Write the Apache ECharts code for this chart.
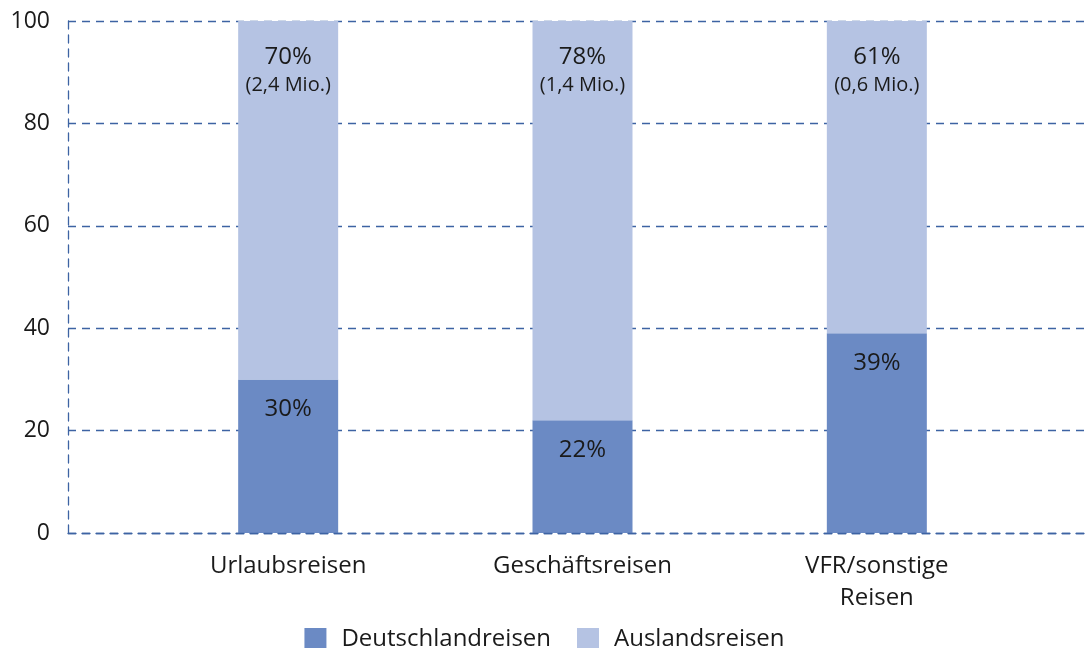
<!DOCTYPE html>
<html>
<head>
<meta charset="utf-8">
<script src="https://cdn.jsdelivr.net/npm/echarts@6/dist/echarts.min.js"></script>
<style>
  html, body { margin: 0; padding: 0; background: #fff; }
  #chart { width: 1089px; height: 648px; }
</style>
</head>
<body>
<div id="chart"></div>
<script>
const categories = ['Urlaubsreisen', 'Geschäftsreisen', 'VFR/sonstige\nReisen']
const domestic = [30, 22, 39]
const abroad = [70, 78, 61]
const abroadMio = ['2,4', '1,4', '0,6']
const yTicks = [0, 20, 40, 60, 80, 100]

const FONT = '"Open Sans", sans-serif'
const TXT = '#1a1a1a'
const dashColor = '#3d63a3'

const myChart = echarts.init(document.getElementById('chart'))
myChart.setOption({
  textStyle: {fontFamily: FONT},
  grid: [
    {left: 68, right: 4, top: 21, bottom: 115},
    {left: 141, right: 65, top: 21, bottom: 115}
  ],
  legend: {
    top: 622,
    left: 'center',
    itemWidth: 22,
    itemHeight: 22,
    itemGap: 26,
    icon: 'rect',
    textStyle: {fontSize: 24, color: TXT, fontFamily: FONT, padding: [0, 0, 0, 10]},
    data: ['Deutschlandreisen', 'Auslandsreisen']
  },
  xAxis: [
    {
      gridIndex: 0,
      type: 'category',
      data: [''],
      z: 10,
      axisLine: {lineStyle: {color: dashColor, type: [8, 6], width: 1.3}},
      axisTick: {show: false},
      axisLabel: {show: false}
    },
    {
      gridIndex: 1,
      type: 'category',
      data: categories,
      axisLine: {show: false},
      axisTick: {show: false},
      axisLabel: {
        color: TXT,
        fontSize: 24,
        margin: 17,
        lineHeight: 32,
        fontFamily: FONT
      }
    }
  ],
  yAxis: [
    {
      gridIndex: 0,
      type: 'value',
      min: 0,
      max: 100,
      interval: 20,
      axisLine: {show: true, lineStyle: {color: dashColor, type: [8, 6], width: 1.3}},
      axisTick: {show: false},
      axisLabel: {
        color: TXT,
        fontSize: 23,
        margin: 18,
        fontFamily: FONT,
        formatter: v => yTicks.includes(v) ? String(v) : ''
      },
      splitLine: {lineStyle: {color: dashColor, type: [8, 6], width: 1.3}}
    },
    {
      gridIndex: 1,
      type: 'value',
      min: 0,
      max: 100,
      interval: 20,
      show: false
    }
  ],
  series: [
    {
      name: 'Deutschlandreisen',
      type: 'bar',
      stack: 'all',
      xAxisIndex: 1,
      yAxisIndex: 1,
      barWidth: 100,
      data: domestic,
      itemStyle: {color: '#6b8ac4'},
      label: {
        show: true,
        position: 'insideTop',
        distance: 17,
        color: TXT,
        fontSize: 24,
        lineHeight: 26,
        fontFamily: FONT,
        formatter: p => p.value + '%'
      }
    },
    {
      name: 'Auslandsreisen',
      type: 'bar',
      stack: 'all',
      xAxisIndex: 1,
      yAxisIndex: 1,
      barWidth: 100,
      data: abroad,
      itemStyle: {color: '#b5c3e3'},
      label: {
        show: true,
        position: 'insideTop',
        distance: 22,
        color: TXT,
        fontFamily: FONT,
        formatter: p => '{p|' + p.value + '%}\n{m|(' + abroadMio[p.dataIndex] + ' Mio.)}',
        rich: {
          p: {fontSize: 24, lineHeight: 28, fontFamily: FONT, color: TXT},
          m: {fontSize: 20, lineHeight: 28, fontFamily: FONT, color: TXT}
        }
      }
    }
  ]
})
</script>
</body>
</html>
